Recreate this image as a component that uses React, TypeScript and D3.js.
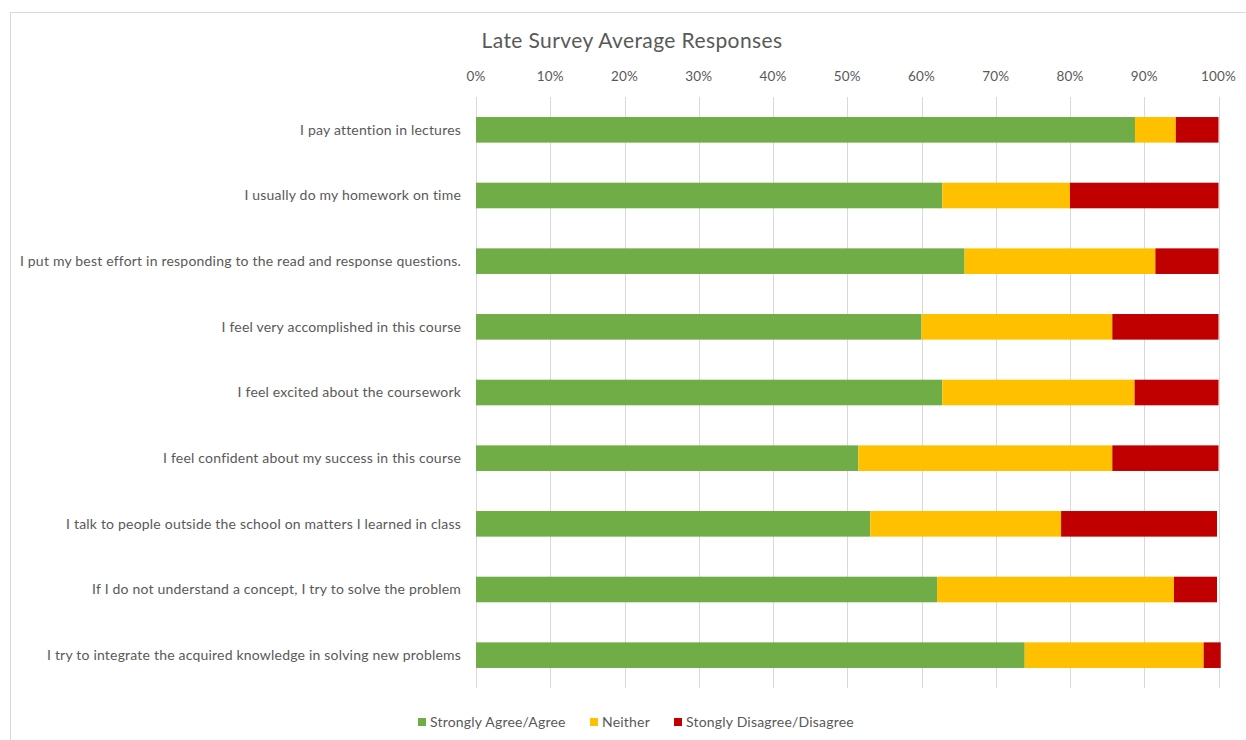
import * as d3 from "d3";

const categories = [
  "I pay attention in lectures",
  "I usually do my homework on time",
  "I put my best effort in responding to the read and response questions.",
  "I feel very accomplished in this course",
  "I feel excited about the coursework",
  "I feel confident about my success in this course",
  "I talk to people outside the school on matters I learned in class",
  "If I do not understand a concept, I try to solve the problem",
  "I try to integrate the acquired knowledge in solving new problems",
];

const agree = [0.8875, 0.628, 0.658, 0.6, 0.628, 0.515, 0.531, 0.621, 0.739];
const neither = [0.055, 0.172, 0.257, 0.257, 0.259, 0.342, 0.257, 0.319, 0.241];
const disagree = [0.0575, 0.2, 0.085, 0.143, 0.113, 0.143, 0.21, 0.058, 0.023];

const seriesNames = ["Strongly Agree/Agree", "Neither", "Stongly Disagree/Disagree"];
const seriesColors = ["#70AD47", "#FFC000", "#C00000"];
const xTicks = [0, 0.1, 0.2, 0.3, 0.4, 0.5, 0.6, 0.7, 0.8, 0.9, 1];

const W = 1246;
const H = 740;
const font = "Lato, 'Liberation Sans', sans-serif";
const textColor = "#595959";

export default function App() {
  const x = d3.scaleLinear().domain([0, 1]).range([476, 1218.5]);
  const y = d3
    .scaleBand()
    .domain(categories)
    .range([97, 688])
    .paddingInner(0.61)
    .paddingOuter(0.305);

  const rows = categories.map((c, i) => ({ c, vals: [agree[i], neither[i], disagree[i]] }));
  const stackData = rows.map((r) => {
    let acc = 0;
    return r.vals.map((v, k) => {
      const s = { x0: acc, x1: acc + v, k };
      acc += v;
      return s;
    });
  });

  const legendX = [418, 590, 674];

  return (
    <div style={{ position: "absolute", left: 0, top: 0 }}>
      <svg width={W} height={H} style={{ display: "block", fontFamily: font }}>
        <rect x={0} y={0} width={W} height={H} fill="#fff" />
        <rect x={10.5} y={12.5} width={1300} height={800} fill="none" stroke="#D9D9D9" />
        <text
          x={632}
          y={48}
          textAnchor="middle"
          fontSize={21}
          letterSpacing={0.4}
          fill={textColor}
        >
          Late Survey Average Responses
        </text>
        {/* grid */}
        {xTicks.map((t) => (
          <g key={t}>
            <line
              x1={Math.round(x(t)) + 0.5}
              x2={Math.round(x(t)) + 0.5}
              y1={97}
              y2={688}
              stroke="#D9D9D9"
            />
            <text
              x={x(t)}
              y={81}
              textAnchor="middle"
              fontSize={13.5}
              letterSpacing={0.2}
              fill={textColor}
            >
              {d3.format(".0%")(t)}
            </text>
          </g>
        ))}
        {/* bars */}
        {rows.map((r, i) => (
          <g key={r.c}>
            {stackData[i].map((s) => (
              <rect
                key={s.k}
                x={x(s.x0)}
                y={y(r.c)}
                width={x(s.x1) - x(s.x0)}
                height={y.bandwidth()}
                fill={seriesColors[s.k]}
              />
            ))}
            <text
              x={461}
              y={(y(r.c) ?? 0) + y.bandwidth() / 2}
              dy="0.35em"
              textAnchor="end"
              fontSize={14}
              letterSpacing={0.2}
              fill={textColor}
            >
              {r.c}
            </text>
          </g>
        ))}
        {/* legend */}
        {seriesNames.map((n, k) => (
          <g key={n}>
            <rect x={legendX[k]} y={718} width={8} height={8} fill={seriesColors[k]} />
            <text
              x={legendX[k] + 12}
              y={722}
              dy="0.35em"
              fontSize={14}
              letterSpacing={0.2}
              fill={textColor}
            >
              {n}
            </text>
          </g>
        ))}
      </svg>
    </div>
  );
}
